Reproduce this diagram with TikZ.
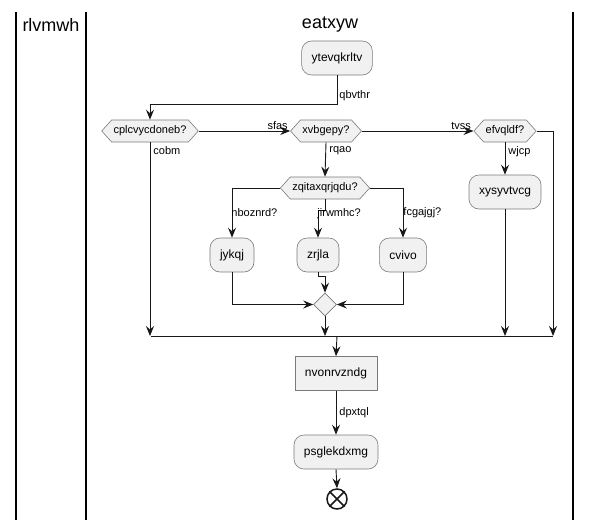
\documentclass[tikz,border=0pt]{standalone}
\usepackage{fontspec}
\setmainfont{Liberation Sans}
\usetikzlibrary{arrows.meta,shapes.geometric,shapes.symbols}
\definecolor{actfill}{HTML}{F1F1F1}
\definecolor{actline}{HTML}{181818}
\definecolor{actborder}{HTML}{7A7A7A}

\begin{document}
\begin{tikzpicture}[x=1pt,y=-1pt,>={Stealth[length=10pt,width=8pt,inset=3.5pt]},
                    flow/.style={->,draw=actline,line width=0.9pt},
                    bar/.style={draw=actline,line width=0.9pt},
                    activity/.style={draw=actborder,line width=0.6pt,fill=actfill,
                      rounded corners=10pt,minimum height=34pt,inner xsep=10pt,
                      font=\fontsize{12}{14}\selectfont},
                    action/.style={activity,rounded corners=0pt},
                    choice/.style={signal,signal to=west and east,signal pointer angle=96,
                      draw=actborder,line width=0.6pt,fill=actfill,minimum height=22pt,
                      inner xsep=2pt,inner ysep=0pt,font=\fontsize{11}{13}\selectfont},
                    merge/.style={diamond,draw=actborder,line width=0.6pt,fill=actfill,
                      minimum size=23pt,inner sep=0pt},
                    lbl/.style={font=\fontsize{11}{13}\selectfont,inner sep=1pt},
                    lane/.style={draw=black,line width=1.5pt},
                    title/.style={font=\fontsize{18}{20}\selectfont}]
  \useasboundingbox (0,0) rectangle (591,520);

  % swimlanes
  \draw[lane] (16,12) -- (16,520);
  \draw[lane] (86,12) -- (86,520);
  \draw[lane] (573,12) -- (573,520);
  \node[title] (RL) at (51,25) {rlvmwh};
  \node[title] (EA) at (330,25) {eatxyw};

  \node[activity] (YT) at (337,58)    {ytevqkrltv};
  \node[choice]   (CP) at (150,131)   {cplcvycdoneb?};
  \node[choice]   (XV) at (326,131)   {xvbgepy?};
  \node[choice]   (EF) at (505,131)   {efvqldf?};
  \node[activity] (XY) at (505,192)   {xysyvtvcg};
  \node[choice]   (ZQ) at (325,188)   {zqitaxqrjqdu?};
  \node[activity] (JY) at (232,255)   {jykqj};
  \node[activity] (ZR) at (318,255)   {zrjla};
  \node[activity] (CV) at (403,255)   {cvivo};
  \node[merge]    (MG) at (325,304.5) {};
  \coordinate (BW) at (151,336);
  \coordinate (BE) at (553,336);
  \coordinate (BC) at (337,336);
  \node[action]   (NV) at (336,373.5) {nvonrvzndg};
  \node[activity] (PS) at (336,452)   {psglekdxmg};
  \node[circle,draw=actline,line width=1.5pt,minimum size=20pt,inner sep=0pt] (ST) at (337,499) {};
  \draw[actline,line width=1.5pt] (ST.45) -- (ST.225) (ST.135) -- (ST.315);

  \draw[flow] (YT.south) -- node[lbl,pos=0.69,anchor=west,xshift=1pt]{qbvthr} ++(0,29) -| (CP.north);
  \draw[flow] (CP.east) -- node[lbl,pos=1,anchor=south east,xshift=-1pt]{sfas} (XV.west);
  \draw[flow] (CP.south) -- node[lbl,pos=0,anchor=north west,xshift=2pt,yshift=-3pt]{cobm} (CP.south |- BW);
  \draw[flow] (XV.east) -- node[lbl,pos=1,anchor=south east,xshift=-1pt]{tvss} (EF.west);
  \draw[flow] (XV.south) -- node[lbl,pos=0,anchor=north west,xshift=2pt,yshift=-3pt]{rqao} (ZQ.north);
  \draw[flow] (EF.south) -- node[lbl,pos=0,anchor=north west,xshift=2pt,yshift=-3pt]{wjcp} (XY.north);
  \draw[flow] (EF.east) -| (BE);
  \draw[flow] (XY.south) -- (XY.south |- BE);

  \draw[flow] (ZQ.west) -| node[lbl,pos=0.75,anchor=west,xshift=-2pt]{nboznrd?} (JY.north);
  \draw[flow] (ZQ.south) -- ++(0,11) -| node[lbl,pos=0.5,anchor=west,xshift=-2pt,yshift=-3pt]{jirwmhc?} (ZR.north);
  \draw[flow] (ZQ.east) -| node[lbl,pos=0.75,anchor=west,xshift=-1pt]{fcgajgj?} (CV.north);

  \draw[flow] (JY.south) |- (MG.west);
  \draw[flow] (ZR.south) -- ++(0,4) -| (MG.north);
  \draw[flow] (CV.south) |- (MG.east);
  \draw[flow] (MG.south) -- (MG.south |- BW);

  \draw[bar] (BW) -- (BE);
  \draw[flow] (BC) -- (NV.north);
  \draw[flow] (NV.south) -- node[lbl,pos=0.5,anchor=west,xshift=2pt]{dpxtql} (PS.north);
  \draw[flow] (PS.south) -- (ST.north);
\end{tikzpicture}
\end{document}
